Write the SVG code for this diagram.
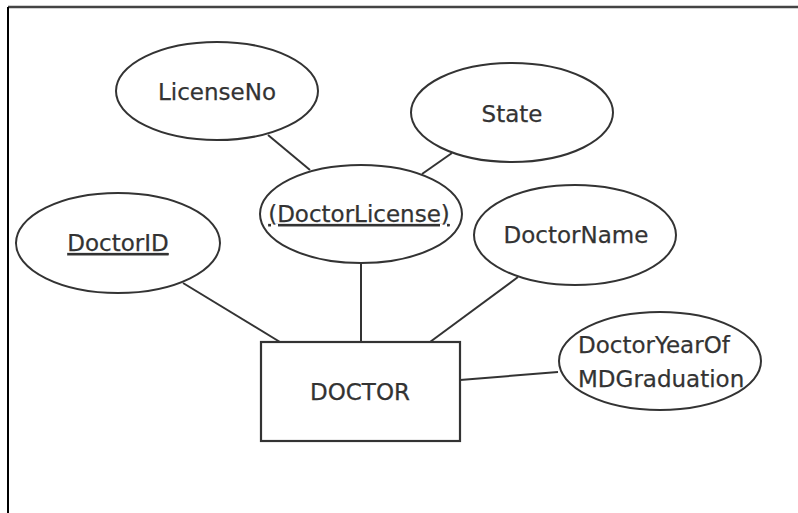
<svg xmlns="http://www.w3.org/2000/svg" width="798" height="513" viewBox="0 0 798 513">
  <style>
    .attr { fill: #ffffff; stroke: #333333; stroke-width: 2; }
    .ent { fill: #ffffff; stroke: #333333; stroke-width: 2.2; }
    .link { stroke: #333333; stroke-width: 2; fill: none; }
    .lbl { font-family: "DejaVu Sans", Verdana, sans-serif; font-size: 23px; fill: #333333; stroke: #333333; stroke-width: 0.25; }
    .mid { text-anchor: middle; }
    .key { text-decoration: underline; }
  </style>
  <rect x="0" y="0" width="798" height="513" fill="#ffffff"/>
  <!-- frame -->
  <g id="frame">
    <line x1="8" y1="7" x2="798" y2="7" stroke="#444444" stroke-width="2.5"/>
    <line x1="8" y1="7" x2="8" y2="513" stroke="#000000" stroke-width="2"/>
  </g>
  <!-- connectors -->
  <g id="connectors">
    <line class="link" x1="268" y1="135" x2="310" y2="170"/>
    <line class="link" x1="452" y1="153" x2="422" y2="174"/>
    <line class="link" x1="361" y1="263" x2="361" y2="342"/>
    <line class="link" x1="183" y1="283" x2="280" y2="342"/>
    <line class="link" x1="518" y1="277" x2="430" y2="342"/>
    <line class="link" x1="460" y1="380" x2="558" y2="372"/>
  </g>
  <g id="licenseNo">
    <ellipse class="attr" cx="217" cy="91" rx="101" ry="49"/>
    <text class="lbl mid" x="217" y="100">LicenseNo</text>
  </g>
  <g id="state">
    <ellipse class="attr" cx="512" cy="112.5" rx="101" ry="49.5"/>
    <text class="lbl mid" x="512" y="122">State</text>
  </g>
  <g id="doctorLicense">
    <ellipse class="attr" cx="361" cy="214" rx="101" ry="49"/>
    <text class="lbl mid key" x="359" y="222">(DoctorLicense)</text>
  </g>
  <g id="doctorID">
    <ellipse class="attr" cx="118" cy="243" rx="102" ry="50"/>
    <text class="lbl mid key" x="118" y="251">DoctorID</text>
  </g>
  <g id="doctorName">
    <ellipse class="attr" cx="575" cy="235" rx="101" ry="50"/>
    <text class="lbl mid" x="576" y="243">DoctorName</text>
  </g>
  <g id="doctorYear">
    <ellipse class="attr" cx="660" cy="361" rx="101" ry="49"/>
    <text class="lbl" x="578" y="353">DoctorYearOf</text>
    <text class="lbl" x="578" y="387">MDGraduation</text>
  </g>
  <g id="doctor">
    <rect class="ent" x="261" y="342" width="199" height="99"/>
    <text class="lbl mid" x="360" y="400">DOCTOR</text>
  </g>
</svg>
